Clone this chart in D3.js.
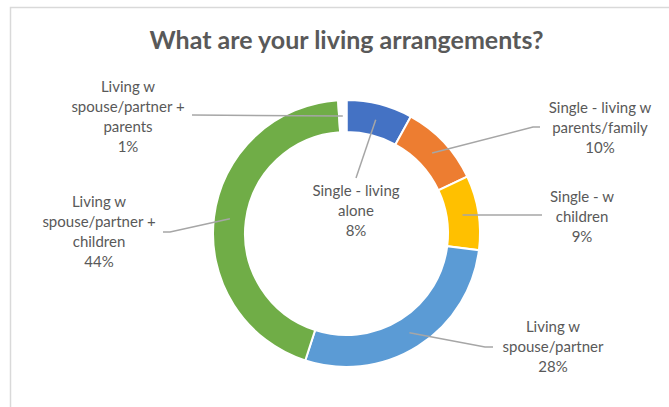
<!DOCTYPE html>
<html>
<head>
<meta charset="utf-8">
<script src="https://cdn.jsdelivr.net/npm/d3@7"></script>
<style>
  html, body { margin: 0; padding: 0; background: #ffffff; }
  svg { display: block; }
</style>
</head>
<body>
<svg id="chart" width="669" height="407"></svg>
<script>
// Survey answers, clockwise from 12 o'clock
const categories = [
  "Single - living alone",
  "Single - living w parents/family",
  "Single - w children",
  "Living w spouse/partner",
  "Living w spouse/partner + children",
  "Living w spouse/partner + parents"
];
const labelLines = [
  ["Single - living", "alone"],
  ["Single - living w", "parents/family"],
  ["Single - w", "children"],
  ["Living w", "spouse/partner"],
  ["Living w", "spouse/partner +", "children"],
  ["Living w", "spouse/partner +", "parents"]
];
const percents = [8, 10, 9, 28, 44, 1];
const sliceColors = ["#4472C4", "#ED7D31", "#FFC000", "#5B9BD5", "#70AD47", "#FFFFFF"];
const titleText = "What are your living arrangements?";

// Label block placement (centre x, first baseline y) and leader elbow
const labelLayout = [
  { x: 356, y: 196, elbow: null, anchor: [356, 178] },
  { x: 600, y: 113, elbow: [533, 127], anchor: [540, 127] },
  { x: 582, y: 202, elbow: null, anchor: [542, 215] },
  { x: 553, y: 332, elbow: [485, 347], anchor: [493, 347] },
  { x: 99, y: 207, elbow: [170, 232], anchor: [163, 232] },
  { x: 128, y: 92, elbow: null, anchor: [192, 115] }
];

const svg = d3.select("#chart");
const W = 669, H = 407;
const cx = 346.5, cy = 233.5;
const rOuter = 133.5, rInner = 101.5;
const lineGap = 20;
const fontFamily = "Lato, 'Open Sans', sans-serif";

svg.append("rect").attr("width", W).attr("height", H).attr("fill", "#ffffff");

// chart area frame
svg.append("rect")
  .attr("x", 10.5).attr("y", 7.5)
  .attr("width", 700).attr("height", 450)
  .attr("fill", "none")
  .attr("stroke", "#D9D9D9")
  .attr("stroke-width", 1.5);

svg.append("text")
  .attr("x", cx).attr("y", 49)
  .attr("text-anchor", "middle")
  .attr("font-family", fontFamily)
  .attr("font-weight", "bold")
  .attr("font-size", 25)
  .attr("fill", "#595959")
  .text(titleText);

const pie = d3.pie().sort(null).value(d => d);
const arcs = pie(percents);
const arc = d3.arc().innerRadius(rInner).outerRadius(rOuter);
const midArc = d3.arc().innerRadius((rInner + rOuter) / 2).outerRadius((rInner + rOuter) / 2);

const g = svg.append("g").attr("transform", `translate(${cx},${cy})`);

g.selectAll("path.slice")
  .data(arcs)
  .join("path")
  .attr("class", "slice")
  .attr("d", arc)
  .attr("fill", (d, i) => sliceColors[i])
  .attr("stroke", "#ffffff")
  .attr("stroke-width", 2);

// leader lines from label to slice middle
arcs.forEach((d, i) => {
  const [mx, my] = midArc.centroid(d);
  const L = labelLayout[i];
  const pts = [L.anchor];
  if (L.elbow) pts.push(L.elbow);
  pts.push([mx + cx, my + cy]);
  svg.append("path")
    .attr("d", d3.line()(pts))
    .attr("fill", "none")
    .attr("stroke", "#A6A6A6")
    .attr("stroke-width", 1.5);
});

// data labels: category name + percentage
arcs.forEach((d, i) => {
  const L = labelLayout[i];
  const t = svg.append("text")
    .attr("text-anchor", "middle")
    .attr("font-family", fontFamily)
    .attr("font-size", 15)
    .attr("fill", "#595959");
  const lines = labelLines[i].concat([percents[i] + "%"]);
  lines.forEach((ln, k) => {
    t.append("tspan").attr("x", L.x).attr("y", L.y + k * lineGap).text(ln);
  });
});
</script>
</body>
</html>
